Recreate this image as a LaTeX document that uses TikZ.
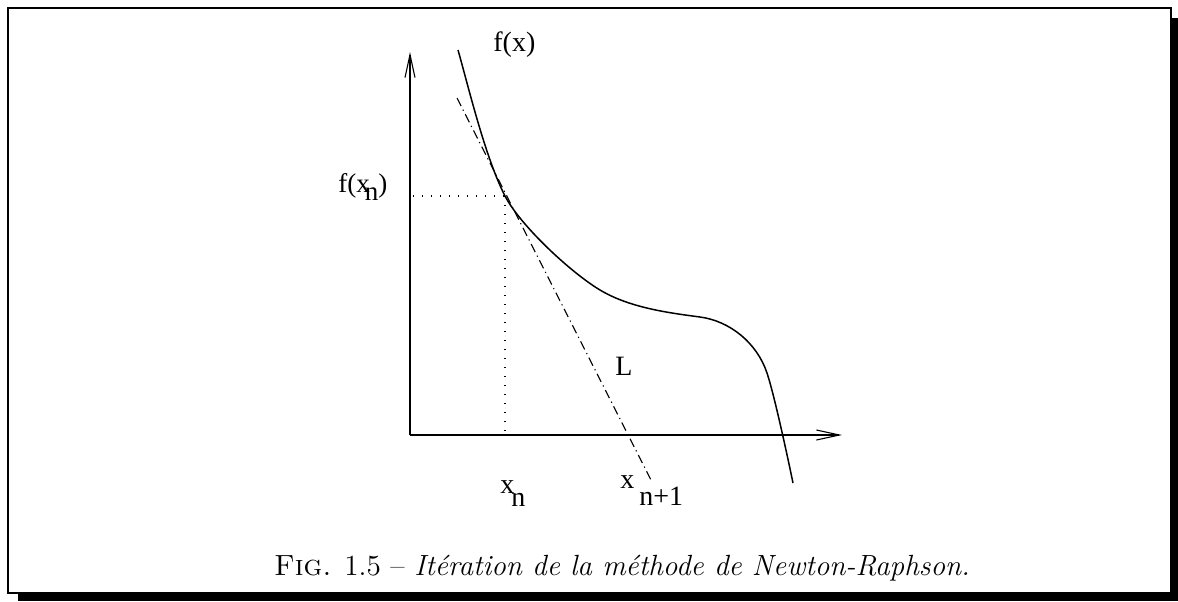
\documentclass[tikz,border=0pt]{standalone}
\usepackage{fontspec}
\newfontfamily\tms{Liberation Serif}
\usetikzlibrary{arrows.meta}
\begin{document}
\begin{tikzpicture}[x=0.5pt,y=-0.5pt,
  frame/.style={line width=1.1pt},
  shadow/.style={fill=black},
  axis/.style={line width=0.55pt,-{Straight Barb[length=11.5pt,width=5pt,line width=0.55pt]}},
  curve/.style={line width=0.75pt},
  tangent/.style={line width=0.55pt,dash pattern=on 4.5pt off 2pt on 0.6pt off 2pt},
  guide/.style={line width=0.6pt,dash pattern=on 0.6pt off 3.9pt},
  lbl/.style={font=\tms\fontsize{14}{16}\selectfont,inner sep=0pt,anchor=base west},
  captxt/.style={font=\fontsize{14.6}{17}\selectfont,inner sep=0pt,anchor=base}
]
\useasboundingbox (0,0) rectangle (1178,601);
% frame with shadow
\draw[frame] (8,8) rectangle (1171,593);
\fill[shadow] (1172,18) rectangle (1178,601);
\fill[shadow] (18,594) rectangle (1178,601);
% axes
\coordinate (O) at (410,435);
\coordinate (Ytop) at (410,52);
\coordinate (Xend) at (842,435);
\draw[axis] (O) -- (Ytop);
\draw[axis] (O) -- (Xend);
% function
\coordinate (C0) at (458,50);
\coordinate (P) at (505,196);
\coordinate (C2) at (600,290);
\coordinate (C3) at (700,317);
\coordinate (C4) at (767,373);
\coordinate (C5) at (793,483);
\draw[curve] (C0) .. controls (468,85) and (485,157) .. (P)
  .. controls (520,225) and (570,272) .. (C2)
  .. controls (630,308) and (670,313) .. (C3)
  .. controls (730,321) and (757,343) .. (C4)
  .. controls (774,394) and (787,454) .. (C5);
% tangent L
\coordinate (T1) at (457,98);
\coordinate (T2) at (651,480);
\draw[tangent] (T1) -- (T2);
% guides
\coordinate (Py) at (413,196);
\coordinate (Px) at (505,435);
\draw[guide] (Py) -- (P);
\draw[guide] (P) -- (Px);
% labels
\node[lbl] (fx) at (493,51) {f(x)};
\node[lbl,font=\tms\fontsize{13.5}{16}\selectfont] (fxn) at (338,192) {f(x\kern-2.5pt\raisebox{-4pt}{n})};
\node[lbl] (xn) at (500,493) {x\kern-1.5pt\raisebox{-6.5pt}{n}};
\node[lbl] (xn1) at (620,488) {x\kern2.5pt\raisebox{-8.5pt}{n+1}};
\node[lbl] (L) at (615,375) {L};
\node[captxt] (caption) at (622,575) {\textsc{Fig.} 1.5 -- \textit{Itération de la méthode de Newton-Raphson.}};
\end{tikzpicture}
\end{document}
